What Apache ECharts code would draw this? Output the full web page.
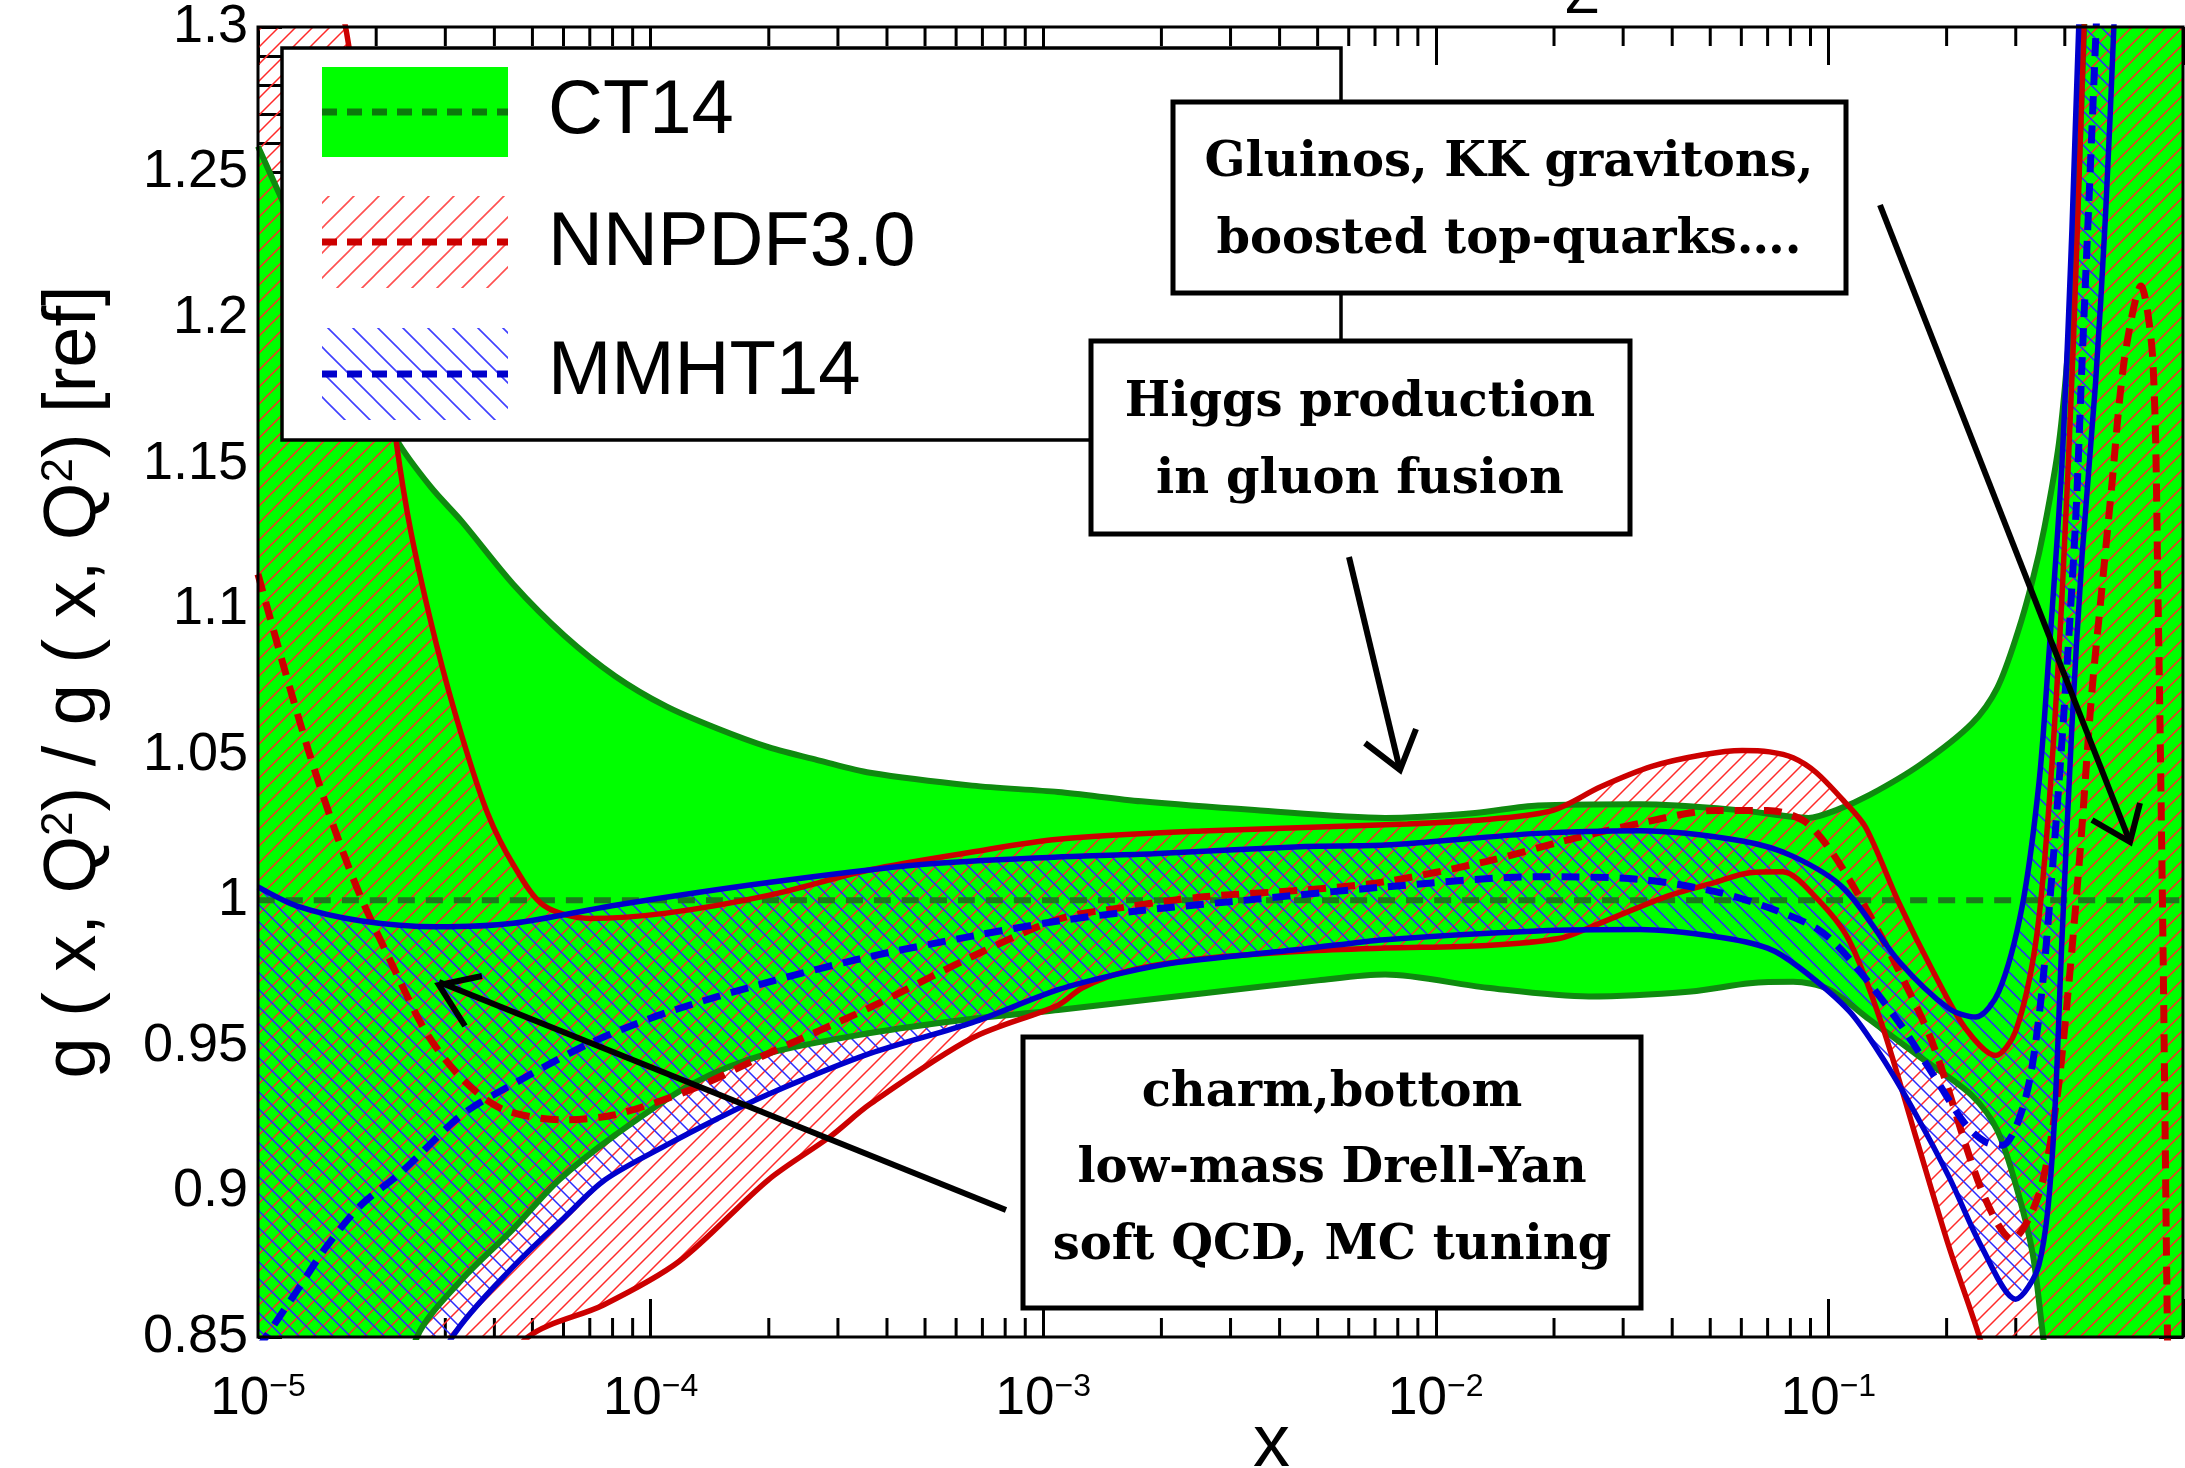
<!DOCTYPE html>
<html><head><meta charset="utf-8">
<script src="https://cdn.jsdelivr.net/npm/echarts@6/dist/echarts.min.js"></script>
<style>html,body{margin:0;padding:0;background:#fff}#c{width:2185px;height:1468px}</style>
</head><body><div id="c"></div>
<script>
// ---- data: [log10(x), g/g_ref] ----
const ct14Upper = [[-5.00,1.259],[-4.94,1.241],[-4.85,1.215],[-4.75,1.187],[-4.646,1.158],[-4.56,1.142],[-4.48,1.130],[-4.35,1.1086],[-4.22,1.091],[-4.09,1.077],[-3.96,1.0666],[-3.83,1.059],[-3.70,1.0526],[-3.57,1.048],[-3.441,1.0438],[-3.181,1.0394],[-2.962,1.0372],[-2.75,1.034],[-2.462,1.031],[-2.129,1.0283],[-1.90,1.030],[-1.74,1.0326],[-1.48,1.033],[-1.22,1.0309],[-1.051,1.0283],[-0.98,1.031],[-0.895,1.0362],[-0.765,1.0467],[-0.635,1.0607],[-0.570,1.073],[-0.518,1.092],[-0.48,1.11],[-0.45,1.128],[-0.413,1.157],[-0.388,1.192],[-0.367,1.236],[-0.354,1.280],[-0.34,1.33],[-0.30,1.45],[-0.20,1.70],[-0.097,1.95]];
const ct14Lower = [[-5.00,0.70],[-4.80,0.77],[-4.595,0.850],[-4.479,0.870],[-4.351,0.887],[-4.233,0.904],[-4.09,0.9194],[-3.895,0.9369],[-3.70,0.9474],[-3.441,0.9544],[-3.20,0.959],[-2.962,0.9623],[-2.596,0.968],[-2.30,0.9725],[-2.129,0.9745],[-1.87,0.970],[-1.61,0.967],[-1.35,0.9687],[-1.20,0.9715],[-1.09,0.972],[-1.00,0.9695],[-0.895,0.959],[-0.765,0.946],[-0.635,0.933],[-0.57,0.921],[-0.518,0.900],[-0.479,0.878],[-0.453,0.850],[-0.40,0.80],[-0.30,0.70],[-0.097,0.50]];
const ct14Central = [[-5.00,1.0],[-0.097,1.0]];

const nnpdfUpper = [[-5.00,1.42],[-4.90,1.36],[-4.777,1.30],[-4.70,1.215],[-4.649,1.1586],[-4.61,1.1262],[-4.545,1.0876],[-4.48,1.0561],[-4.415,1.0298],[-4.35,1.0123],[-4.272,0.9982],[-4.155,0.9938],[-3.96,0.9956],[-3.70,1.0017],[-3.441,1.0105],[-3.181,1.0166],[-2.962,1.021],[-2.596,1.0238],[-2.072,1.0262],[-1.85,1.028],[-1.70,1.031],[-1.58,1.039],[-1.45,1.046],[-1.32,1.050],[-1.22,1.0515],[-1.15,1.051],[-1.09,1.049],[-1.032,1.044],[-0.96,1.034],[-0.905,1.025],[-0.82,0.999],[-0.735,0.976],[-0.651,0.956],[-0.574,0.9467],[-0.5234,0.955],[-0.4725,0.9850],[-0.4397,1.030],[-0.4053,1.104],[-0.376,1.192],[-0.354,1.28],[-0.33,1.38],[-0.25,1.60],[-0.097,2.00]];
const nnpdfLower = [[-5.00,0.70],[-4.80,0.74],[-4.60,0.79],[-4.45,0.825],[-4.312,0.850],[-4.12,0.861],[-3.927,0.876],[-3.70,0.904],[-3.541,0.919],[-3.441,0.930],[-3.181,0.9527],[-2.962,0.964],[-2.90,0.970],[-2.786,0.9757],[-2.592,0.980],[-2.332,0.9826],[-2.129,0.9836],[-1.87,0.9845],[-1.683,0.9870],[-1.61,0.9906],[-1.415,1.0012],[-1.293,1.0060],[-1.20,1.0095],[-1.117,1.0098],[-1.032,1.001],[-0.9475,0.9863],[-0.863,0.957],[-0.778,0.919],[-0.693,0.881],[-0.617,0.8507],[-0.55,0.82],[-0.45,0.77],[-0.30,0.70],[-0.097,0.60]];
const nnpdfCentral = [[-5.00,1.112],[-4.935,1.0806],[-4.870,1.0508],[-4.805,1.0245],[-4.74,1.0017],[-4.662,0.979],[-4.571,0.9545],[-4.48,0.9387],[-4.376,0.9282],[-4.22,0.9246],[-4.09,0.9264],[-3.895,0.9351],[-3.70,0.9474],[-3.441,0.9632],[-3.181,0.9807],[-2.962,0.9935],[-2.80,0.9975],[-2.592,1.0012],[-2.332,1.0036],[-2.129,1.0064],[-1.87,1.0134],[-1.674,1.0204],[-1.48,1.0265],[-1.285,1.0309],[-1.155,1.0309],[-1.064,1.0274],[-0.999,1.018],[-0.921,1.0012],[-0.830,0.9783],[-0.735,0.951],[-0.6085,0.900],[-0.532,0.8836],[-0.464,0.899],[-0.42,0.93],[-0.39,0.968],[-0.36,1.015],[-0.33,1.07],[-0.305,1.105],[-0.28,1.14],[-0.246,1.186],[-0.204,1.211],[-0.174,1.186],[-0.1606,1.104],[-0.148,0.986],[-0.1365,0.851],[-0.12,0.70],[-0.097,0.55]];

const mmhtUpper = [[-5.00,1.0046],[-4.90,0.998],[-4.74,0.993],[-4.545,0.9909],[-4.35,0.9921],[-4.09,0.9983],[-3.70,1.0061],[-3.31,1.0123],[-2.962,1.0149],[-2.721,1.016],[-2.332,1.0185],[-2.129,1.019],[-1.74,1.023],[-1.48,1.0239],[-1.22,1.0204],[-1.09,1.0151],[-0.96,1.004],[-0.82,0.979],[-0.693,0.9628],[-0.625,0.9599],[-0.566,0.9687],[-0.5065,0.998],[-0.464,1.040],[-0.4397,1.082],[-0.4053,1.150],[-0.3799,1.230],[-0.3625,1.30],[-0.33,1.40],[-0.20,1.80],[-0.097,2.20]];
const mmhtLower = [[-5.00,0.72],[-4.80,0.77],[-4.65,0.81],[-4.505,0.850],[-4.351,0.874],[-4.22,0.891],[-4.116,0.904],[-3.96,0.9159],[-3.83,0.925],[-3.70,0.9334],[-3.441,0.9474],[-3.181,0.958],[-2.962,0.9693],[-2.80,0.975],[-2.656,0.9787],[-2.332,0.9834],[-2.129,0.9865],[-1.74,0.9895],[-1.48,0.990],[-1.285,0.9875],[-1.155,0.9836],[-1.075,0.977],[-0.9475,0.962],[-0.863,0.946],[-0.778,0.9266],[-0.693,0.905],[-0.6085,0.8806],[-0.5234,0.863],[-0.464,0.8747],[-0.4296,0.9129],[-0.4053,0.9863],[-0.3799,1.0597],[-0.354,1.1184],[-0.32,1.177],[-0.294,1.236],[-0.273,1.30],[-0.25,1.38],[-0.15,1.70],[-0.097,2.00]];
const mmhtCentral = [[-5.00,0.846],[-4.98,0.850],[-4.90,0.866],[-4.826,0.881],[-4.74,0.895],[-4.636,0.9065],[-4.48,0.9264],[-4.35,0.9369],[-4.155,0.9509],[-3.96,0.9614],[-3.70,0.9719],[-3.441,0.9807],[-3.181,0.9877],[-2.962,0.9929],[-2.75,0.9965],[-2.45,1.0005],[-2.129,1.0046],[-1.74,1.0081],[-1.48,1.0072],[-1.285,1.0029],[-1.155,0.9976],[-1.026,0.990],[-0.9475,0.980],[-0.820,0.958],[-0.735,0.9405],[-0.651,0.923],[-0.60,0.917],[-0.557,0.9159],[-0.50,0.931],[-0.462,0.962],[-0.43,1.01],[-0.40,1.065],[-0.3706,1.13],[-0.354,1.185],[-0.335,1.245],[-0.318,1.30],[-0.28,1.42],[-0.20,1.70],[-0.097,2.00]];

const xTickExponents = [-5, -4, -3, -2, -1];
const yTickLabels = ['0.85','0.9','0.95','1','1.05','1.1','1.15','1.2','1.25','1.3'];
const legendNames = ['CT14', 'NNPDF3.0', 'MMHT14'];
const X_MIN = 1e-5, X_MAX = 0.8;

// ---- helpers ----
function toXY(arr) { return arr.map(p => [Math.pow(10, p[0]), p[1]]); }
function makeHatch(color, s, dir, w) {
  const c = document.createElement('canvas');
  c.width = s; c.height = s;
  const g = c.getContext('2d');
  g.strokeStyle = color; g.lineWidth = w;
  g.beginPath();
  if (dir > 0) {
    g.moveTo(0, s); g.lineTo(s, 0);
    g.moveTo(-s/2, s/2); g.lineTo(s/2, -s/2);
    g.moveTo(s/2, 1.5*s); g.lineTo(1.5*s, s/2);
  } else {
    g.moveTo(0, 0); g.lineTo(s, s);
    g.moveTo(-s/2, s/2); g.lineTo(s/2, 1.5*s);
    g.moveTo(s/2, -s/2); g.lineTo(1.5*s, s/2);
  }
  g.stroke();
  return c;
}
const redHatch = {image: makeHatch('#ff2a2a', 17, 1, 1.5), repeat: 'repeat'};
const blueHatch = {image: makeHatch('#2a2aff', 17, -1, 1.5), repeat: 'repeat'};
const redHatchL = {image: makeHatch('#ff5050', 25, 1, 1.6), repeat: 'repeat'};
const blueHatchL = {image: makeHatch('#4040ff', 25, -1, 1.6), repeat: 'repeat'};

function bandSeries(name, upper, lower, fill, z) {
  const up = toXY(upper), lo = toXY(lower);
  return {
    type: 'custom', name: name, z: z, clip: true, silent: true,
    data: [[1e-3, 1]], encode: {x: 0, y: 1},
    renderItem: function (params, api) {
      const pts = [];
      up.forEach(p => pts.push(api.coord(p)));
      for (let i = lo.length - 1; i >= 0; i--) pts.push(api.coord(lo[i]));
      return {type: 'polygon', shape: {points: pts}, style: {fill: fill, stroke: null}};
    }
  };
}
function lineSeries(name, arr, color, width, dash, z) {
  return {
    type: 'line', name: name, data: toXY(arr), smooth: 0.3, symbol: 'none', showSymbol: false,
    z: z, silent: true, clip: true,
    lineStyle: {color: color, width: width, type: dash || 'solid', cap: 'butt'}
  };
}
const minorTickValues = [];
xTickExponents.forEach(e => { for (let k = 2; k <= 9; k++) { const v = k * Math.pow(10, e); if (v < X_MAX) minorTickValues.push([v, 1]); } });

const supStyle = {fontSize: 32, lineHeight: 24, verticalAlign: 'top', fontFamily: 'Liberation Sans', color: '#000'};

const chart = echarts.init(document.getElementById('c'), null, {renderer: 'canvas'});
chart.setOption({
  animation: false,
  backgroundColor: '#fff',
  grid: {left: 258, right: 2, top: 27, bottom: 131, containLabel: false, outerBoundsMode: 'none',
    show: true, borderColor: '#000', borderWidth: 3, backgroundColor: 'rgba(0,0,0,0)', z: 20},
  xAxis: [{
    type: 'log', logBase: 10, min: X_MIN, max: X_MAX, position: 'bottom',
    axisLine: {show: false}, splitLine: {show: false},
    axisTick: {inside: true, length: 38, lineStyle: {color: '#000', width: 3}},
    axisLabel: {
      margin: 34, color: '#000',
      formatter: function (v) {
        const e = Math.round(Math.log10(v));
        if (Math.abs(v / Math.pow(10, e) - 1) < 1e-6 && xTickExponents.indexOf(e) >= 0) return '{b|10}{s|\u2212' + (-e) + '}';
        return '';
      },
      rich: {b: {fontSize: 53, lineHeight: 56, fontFamily: 'Liberation Sans', color: '#000'}, s: supStyle}
    },
    name: 'x', nameLocation: 'middle', nameGap: 72, nameMoveOverlap: false,
    nameTextStyle: {fontSize: 74, fontFamily: 'Liberation Sans', color: '#000', padding: [0, 0, 0, 102]}
  }, {
    type: 'log', logBase: 10, min: X_MIN, max: X_MAX, position: 'top',
    axisLine: {show: false}, splitLine: {show: false}, axisLabel: {show: false},
    axisTick: {inside: true, length: 38, lineStyle: {color: '#000', width: 3}}
  }],
  yAxis: [{
    type: 'value', min: 0.85, max: 1.3, interval: 0.05, position: 'left',
    axisLine: {show: false}, splitLine: {show: false},
    axisTick: {inside: true, length: 24, lineStyle: {color: '#000', width: 3}},
    minorTick: {show: true, splitNumber: 5, length: 24, lineStyle: {color: '#000', width: 3}},
    axisLabel: {
      margin: 10, fontSize: 54, fontFamily: 'Liberation Sans', color: '#000',
      formatter: function (v) {
        for (const t of yTickLabels) if (Math.abs(parseFloat(t) - v) < 1e-6) return t;
        return '';
      }
    },
    name: 'g ( x, Q{s|2}) / g ( x, Q{s|2}) [ref]', nameLocation: 'middle', nameGap: 146, nameMoveOverlap: false,
    nameTextStyle: {fontSize: 74, fontFamily: 'Liberation Sans', color: '#000',
      rich: {s: {fontSize: 44, lineHeight: 40, verticalAlign: 'top', fontFamily: 'Liberation Sans', color: '#000'}}}
  }, {
    type: 'value', min: 0.85, max: 1.3, interval: 0.05, position: 'right',
    axisLine: {show: false}, splitLine: {show: false}, axisLabel: {show: false},
    axisTick: {inside: true, length: 24, lineStyle: {color: '#000', width: 3}},
    minorTick: {show: true, splitNumber: 5, length: 24, lineStyle: {color: '#000', width: 3}}
  }],
  series: [
    {
      type: 'custom', name: 'minorTicks', z: 1, silent: true, data: minorTickValues, encode: {x: 0, y: 1},
      renderItem: function (params, api) {
        const px = api.coord([api.value(0), 1])[0];
        const cs = params.coordSys;
        return {type: 'group', children: [
          {type: 'line', shape: {x1: px, y1: cs.y + cs.height, x2: px, y2: cs.y + cs.height - 19}, style: {stroke: '#000', lineWidth: 3}},
          {type: 'line', shape: {x1: px, y1: cs.y, x2: px, y2: cs.y + 19}, style: {stroke: '#000', lineWidth: 3}}
        ]};
      }
    },
    bandSeries('CT14 band', ct14Upper, ct14Lower, '#00ff00', 2),
    bandSeries('NNPDF3.0 band', nnpdfUpper, nnpdfLower, redHatch, 3),
    bandSeries('MMHT14 band', mmhtUpper, mmhtLower, blueHatch, 4),
    lineSeries('CT14 upper', ct14Upper, '#0f8a0f', 6, null, 5),
    lineSeries('CT14 lower', ct14Lower, '#0f8a0f', 6, null, 5),
    lineSeries('CT14', ct14Central, '#1b7a1b', 6, [17, 11], 5),
    lineSeries('NNPDF3.0 upper', nnpdfUpper, '#cc0000', 5.5, null, 6),
    lineSeries('NNPDF3.0 lower', nnpdfLower, '#cc0000', 5.5, null, 6),
    lineSeries('NNPDF3.0', nnpdfCentral, '#cc0000', 7, [18, 11], 6),
    lineSeries('MMHT14 upper', mmhtUpper, '#0000cc', 5.5, null, 7),
    lineSeries('MMHT14 lower', mmhtLower, '#0000cc', 5.5, null, 7),
    lineSeries('MMHT14', mmhtCentral, '#0000dd', 7, [18, 11], 7)
  ],
  graphic: [
    {type: 'text', z: 40, x: 1582, y: 25, style: {text: 'Z', font: '55px "Liberation Sans"', fill: '#000', align: 'center', verticalAlign: 'bottom'}},
    // legend
    {type: 'rect', z: 50, shape: {x: 282, y: 48, width: 1059, height: 392}, style: {fill: '#fff', stroke: '#000', lineWidth: 3.5}},
    {type: 'rect', z: 51, shape: {x: 322, y: 67, width: 186, height: 90}, style: {fill: '#00ff00'}},
    {type: 'line', z: 52, shape: {x1: 322, y1: 112, x2: 508, y2: 112}, style: {stroke: '#0b7a0b', lineWidth: 7, lineDash: [15, 10]}},
    {type: 'rect', z: 51, shape: {x: 322, y: 196, width: 186, height: 92}, style: {fill: redHatchL}},
    {type: 'line', z: 52, shape: {x1: 322, y1: 242, x2: 508, y2: 242}, style: {stroke: '#cc0000', lineWidth: 7, lineDash: [15, 10]}},
    {type: 'rect', z: 51, shape: {x: 322, y: 328, width: 186, height: 92}, style: {fill: blueHatchL}},
    {type: 'line', z: 52, shape: {x1: 322, y1: 374, x2: 508, y2: 374}, style: {stroke: '#0000cc', lineWidth: 7, lineDash: [15, 10]}},
    {type: 'text', z: 52, x: 548, y: 112, style: {text: legendNames[0], font: '76px "Liberation Sans"', fill: '#000', align: 'left', verticalAlign: 'middle'}},
    {type: 'text', z: 52, x: 548, y: 244, style: {text: legendNames[1], font: '76px "Liberation Sans"', fill: '#000', align: 'left', verticalAlign: 'middle'}},
    {type: 'text', z: 52, x: 548, y: 373, style: {text: legendNames[2], font: '76px "Liberation Sans"', fill: '#000', align: 'left', verticalAlign: 'middle'}},
    // annotation boxes
    {type: 'rect', z: 60, shape: {x: 1173, y: 102, width: 673, height: 191}, style: {fill: '#fff', stroke: '#000', lineWidth: 5}},
    {type: 'text', z: 61, x: 1509, y: 164, style: {text: 'Gluinos, KK gravitons,', font: 'bold 48px "DejaVu Serif"', fill: '#000', align: 'center', verticalAlign: 'middle'}},
    {type: 'text', z: 61, x: 1509, y: 241, style: {text: 'boosted top-quarks\u2026.', font: 'bold 48px "DejaVu Serif"', fill: '#000', align: 'center', verticalAlign: 'middle'}},
    {type: 'rect', z: 60, shape: {x: 1091, y: 341, width: 539, height: 193}, style: {fill: '#fff', stroke: '#000', lineWidth: 5}},
    {type: 'text', z: 61, x: 1360, y: 404, style: {text: 'Higgs production', font: 'bold 48px "DejaVu Serif"', fill: '#000', align: 'center', verticalAlign: 'middle'}},
    {type: 'text', z: 61, x: 1360, y: 481, style: {text: 'in gluon fusion', font: 'bold 48px "DejaVu Serif"', fill: '#000', align: 'center', verticalAlign: 'middle'}},
    {type: 'rect', z: 60, shape: {x: 1023, y: 1037, width: 618, height: 271}, style: {fill: '#fff', stroke: '#000', lineWidth: 5}},
    {type: 'text', z: 61, x: 1332, y: 1094, style: {text: 'charm,bottom', font: 'bold 48px "DejaVu Serif"', fill: '#000', align: 'center', verticalAlign: 'middle'}},
    {type: 'text', z: 61, x: 1332, y: 1170, style: {text: 'low-mass Drell-Yan', font: 'bold 48px "DejaVu Serif"', fill: '#000', align: 'center', verticalAlign: 'middle'}},
    {type: 'text', z: 61, x: 1332, y: 1247, style: {text: 'soft QCD, MC tuning', font: 'bold 48px "DejaVu Serif"', fill: '#000', align: 'center', verticalAlign: 'middle'}},
    // arrows
    {type: 'polyline', z: 62, shape: {points: [[1006, 1210], [439, 982]]}, style: {stroke: '#000', lineWidth: 6, fill: null}},
    {type: 'polyline', z: 62, shape: {points: [[482, 976], [439, 985], [465, 1026]]}, style: {stroke: '#000', lineWidth: 6, fill: null}},
    {type: 'polyline', z: 62, shape: {points: [[1349, 557], [1400, 770]]}, style: {stroke: '#000', lineWidth: 6, fill: null}},
    {type: 'polyline', z: 62, shape: {points: [[1365, 743], [1400, 770], [1416, 729]]}, style: {stroke: '#000', lineWidth: 6, fill: null}},
    {type: 'polyline', z: 62, shape: {points: [[1880, 205], [2130, 842]]}, style: {stroke: '#000', lineWidth: 6, fill: null}},
    {type: 'polyline', z: 62, shape: {points: [[2092, 820], [2130, 842], [2140, 803]]}, style: {stroke: '#000', lineWidth: 6, fill: null}}
  ]
});
</script>
</body></html>
